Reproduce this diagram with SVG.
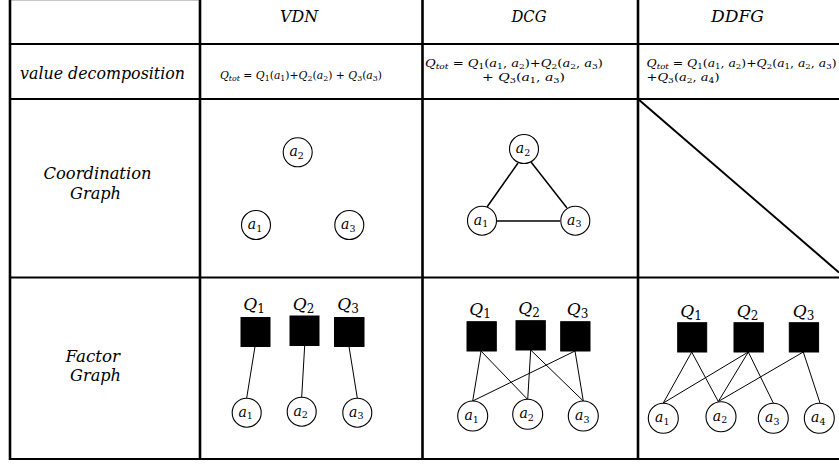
<svg xmlns="http://www.w3.org/2000/svg" width="839" height="466" viewBox="0 0 839 466">
<style>
text{font-family:"DejaVu Serif","Liberation Serif",serif;fill:#000}
.i{font-style:italic}
.hd{font-size:16px;font-style:italic}
.lb{font-size:16px;font-style:italic}
.fm{font-size:11.5px}
.fs{font-size:8px}
.vd{font-size:11px}
.vs{font-size:8px}
.ql{font-size:17px}
.qs{font-size:12px}
.nl{font-size:14px}
.ns{font-size:9.5px}
.tv{stroke:#000;stroke-width:2.6;fill:none}
.th{stroke:#000;stroke-width:2.2;fill:none}
.agent{fill:#fff;stroke:#000;stroke-width:1.1}
.fac{fill:#000;stroke:#000}
.e{stroke:#000;stroke-width:1;fill:none}
.ec{stroke:#000;stroke-width:1.5;fill:none}
</style>
<rect width="839" height="466" fill="#fff"/>
<g id="table">
<line x1="9" y1="0.5" x2="200" y2="0.5" stroke="#c8c8c8" stroke-width="1"/>
<line class="tv" x1="10" y1="0" x2="10" y2="460"/>
<line class="tv" x1="200" y1="0" x2="200" y2="460"/>
<line class="tv" x1="422.5" y1="0" x2="422.5" y2="460"/>
<line class="tv" x1="638" y1="0" x2="638" y2="460"/>
<line class="th" x1="9" y1="44" x2="839" y2="44"/>
<line class="th" x1="9" y1="99" x2="839" y2="99"/>
<line class="th" x1="9" y1="277.5" x2="839" y2="277.5"/>
<line class="th" x1="9" y1="459" x2="839" y2="459"/>
<line x1="638" y1="99" x2="839" y2="272.5" stroke="#000" stroke-width="2"/>
</g>
<g id="headers">
<text class="hd" x="280" y="21.5" textLength="38" lengthAdjust="spacingAndGlyphs">VDN</text>
<text class="hd" x="511.5" y="21.5" textLength="35" lengthAdjust="spacingAndGlyphs">DCG</text>
<text class="hd" x="711" y="21.5" textLength="53" lengthAdjust="spacingAndGlyphs">DDFG</text>
<text class="lb" x="20" y="79" textLength="165" lengthAdjust="spacingAndGlyphs">value decomposition</text>
<text class="lb" x="43.5" y="179" textLength="108" lengthAdjust="spacingAndGlyphs">Coordination</text>
<text class="lb" x="70" y="198.5" textLength="51" lengthAdjust="spacingAndGlyphs">Graph</text>
<text class="lb" x="65.5" y="361.5" textLength="54.5" lengthAdjust="spacingAndGlyphs">Factor</text>
<text class="lb" x="70" y="381" textLength="51" lengthAdjust="spacingAndGlyphs">Graph</text>
</g>
<g id="formulas">
<text class="vd" x="220" y="78.5" textLength="162" lengthAdjust="spacingAndGlyphs"><tspan class="i">Q</tspan><tspan class="i vs" dy="2">tot</tspan><tspan dy="-2"> = </tspan><tspan class="i">Q</tspan><tspan class="vs" dy="2">1</tspan><tspan dy="-2">(</tspan><tspan class="i">a</tspan><tspan class="vs" dy="2">1</tspan><tspan dy="-2">)+</tspan><tspan class="i">Q</tspan><tspan class="vs" dy="2">2</tspan><tspan dy="-2">(</tspan><tspan class="i">a</tspan><tspan class="vs" dy="2">2</tspan><tspan dy="-2">) + </tspan><tspan class="i">Q</tspan><tspan class="vs" dy="2">3</tspan><tspan dy="-2">(</tspan><tspan class="i">a</tspan><tspan class="vs" dy="2">3</tspan><tspan dy="-2">)</tspan></text>
<text class="fm" x="425" y="66.5" textLength="178" lengthAdjust="spacingAndGlyphs"><tspan class="i">Q</tspan><tspan class="i fs" dy="2">tot</tspan><tspan dy="-2"> = </tspan><tspan class="i">Q</tspan><tspan class="fs" dy="2">1</tspan><tspan dy="-2">(</tspan><tspan class="i">a</tspan><tspan class="fs" dy="2">1</tspan><tspan dy="-2">, </tspan><tspan class="i">a</tspan><tspan class="fs" dy="2">2</tspan><tspan dy="-2">)+</tspan><tspan class="i">Q</tspan><tspan class="fs" dy="2">2</tspan><tspan dy="-2">(</tspan><tspan class="i">a</tspan><tspan class="fs" dy="2">2</tspan><tspan dy="-2">, </tspan><tspan class="i">a</tspan><tspan class="fs" dy="2">3</tspan><tspan dy="-2">)</tspan></text>
<text class="fm" x="482" y="81" textLength="83" lengthAdjust="spacingAndGlyphs"><tspan>+ </tspan><tspan class="i">Q</tspan><tspan class="fs" dy="2">3</tspan><tspan dy="-2">(</tspan><tspan class="i">a</tspan><tspan class="fs" dy="2">1</tspan><tspan dy="-2">, </tspan><tspan class="i">a</tspan><tspan class="fs" dy="2">3</tspan><tspan dy="-2">)</tspan></text>
<text class="fm" x="646.5" y="66.5" textLength="190" lengthAdjust="spacingAndGlyphs"><tspan class="i">Q</tspan><tspan class="i fs" dy="2">tot</tspan><tspan dy="-2"> = </tspan><tspan class="i">Q</tspan><tspan class="fs" dy="2">1</tspan><tspan dy="-2">(</tspan><tspan class="i">a</tspan><tspan class="fs" dy="2">1</tspan><tspan dy="-2">, </tspan><tspan class="i">a</tspan><tspan class="fs" dy="2">2</tspan><tspan dy="-2">)+</tspan><tspan class="i">Q</tspan><tspan class="fs" dy="2">2</tspan><tspan dy="-2">(</tspan><tspan class="i">a</tspan><tspan class="fs" dy="2">1</tspan><tspan dy="-2">, </tspan><tspan class="i">a</tspan><tspan class="fs" dy="2">2</tspan><tspan dy="-2">, </tspan><tspan class="i">a</tspan><tspan class="fs" dy="2">3</tspan><tspan dy="-2">)</tspan></text>
<text class="fm" x="646.5" y="81" textLength="73" lengthAdjust="spacingAndGlyphs"><tspan>+</tspan><tspan class="i">Q</tspan><tspan class="fs" dy="2">3</tspan><tspan dy="-2">(</tspan><tspan class="i">a</tspan><tspan class="fs" dy="2">2</tspan><tspan dy="-2">, </tspan><tspan class="i">a</tspan><tspan class="fs" dy="2">4</tspan><tspan dy="-2">)</tspan></text>
</g>
<g id="connectors">
<line class="ec" x1="487" y1="207" x2="518" y2="163"/>
<line class="ec" x1="531" y1="162" x2="567" y2="208"/>
<line class="ec" x1="497" y1="221" x2="560" y2="221"/>
<line class="e" x1="255" y1="346.5" x2="246.7" y2="398"/>
<line class="e" x1="304.7" y1="345.5" x2="301.7" y2="397"/>
<line class="e" x1="349" y1="346.5" x2="357.3" y2="398"/>
<line class="e" x1="481" y1="351" x2="472.7" y2="401"/>
<line class="e" x1="481" y1="351" x2="527.7" y2="399.5"/>
<line class="e" x1="530.7" y1="350" x2="527.7" y2="399.5"/>
<line class="e" x1="530.7" y1="350" x2="583.3" y2="401"/>
<line class="e" x1="575" y1="351" x2="472.7" y2="401"/>
<line class="e" x1="575" y1="351" x2="583.3" y2="401"/>
<line class="e" x1="691.7" y1="352" x2="663.3" y2="403"/>
<line class="e" x1="691.7" y1="352" x2="718.3" y2="401.5"/>
<line class="e" x1="748.3" y1="352" x2="663.3" y2="403"/>
<line class="e" x1="748.3" y1="352" x2="718.3" y2="401.5"/>
<line class="e" x1="748.3" y1="352" x2="773.3" y2="403"/>
<line class="e" x1="803.3" y1="352" x2="718.3" y2="401.5"/>
<line class="e" x1="803.3" y1="352" x2="820" y2="403"/>
</g>
<g id="vdn-cg-a1"><circle class="agent" cx="256" cy="225" r="14.5"/><text class="nl i" x="255" y="229" text-anchor="middle">a<tspan class="ns" dy="2.5" font-style="normal">1</tspan></text></g>
<g id="vdn-cg-a2"><circle class="agent" cx="297.7" cy="152.3" r="14.5"/><text class="nl i" x="296.7" y="156.3" text-anchor="middle">a<tspan class="ns" dy="2.5" font-style="normal">2</tspan></text></g>
<g id="vdn-cg-a3"><circle class="agent" cx="349.3" cy="225" r="14.5"/><text class="nl i" x="348.3" y="229" text-anchor="middle">a<tspan class="ns" dy="2.5" font-style="normal">3</tspan></text></g>
<g id="dcg-cg-a1"><circle class="agent" cx="482" cy="220.7" r="14.5"/><text class="nl i" x="481" y="224.7" text-anchor="middle">a<tspan class="ns" dy="2.5" font-style="normal">1</tspan></text></g>
<g id="dcg-cg-a2"><circle class="agent" cx="524" cy="149" r="14.5"/><text class="nl i" x="523" y="153" text-anchor="middle">a<tspan class="ns" dy="2.5" font-style="normal">2</tspan></text></g>
<g id="dcg-cg-a3"><circle class="agent" cx="575.3" cy="220.7" r="14.5"/><text class="nl i" x="574.3" y="224.7" text-anchor="middle">a<tspan class="ns" dy="2.5" font-style="normal">3</tspan></text></g>
<g id="vdn-fg-q1"><rect class="fac" x="241" y="317.5" width="29" height="29"/><text class="ql i" x="254" y="310" text-anchor="middle">Q<tspan class="qs" dy="3" font-style="normal">1</tspan></text></g>
<g id="vdn-fg-q2"><rect class="fac" x="290" y="316" width="29" height="29.5"/><text class="ql i" x="303.5" y="310" text-anchor="middle">Q<tspan class="qs" dy="3" font-style="normal">2</tspan></text></g>
<g id="vdn-fg-q3"><rect class="fac" x="334.5" y="317.5" width="29.5" height="29"/><text class="ql i" x="348" y="310" text-anchor="middle">Q<tspan class="qs" dy="3" font-style="normal">3</tspan></text></g>
<g id="vdn-fg-a1"><circle class="agent" cx="246.7" cy="412.7" r="14.5"/><text class="nl i" x="245.7" y="416.7" text-anchor="middle">a<tspan class="ns" dy="2.5" font-style="normal">1</tspan></text></g>
<g id="vdn-fg-a2"><circle class="agent" cx="301.7" cy="411.7" r="14.5"/><text class="nl i" x="300.7" y="415.7" text-anchor="middle">a<tspan class="ns" dy="2.5" font-style="normal">2</tspan></text></g>
<g id="vdn-fg-a3"><circle class="agent" cx="357.3" cy="412.7" r="14.5"/><text class="nl i" x="356.3" y="416.7" text-anchor="middle">a<tspan class="ns" dy="2.5" font-style="normal">3</tspan></text></g>
<g id="dcg-fg-q1"><rect class="fac" x="467" y="321.7" width="29.3" height="29.3"/><text class="ql i" x="480" y="315" text-anchor="middle">Q<tspan class="qs" dy="3" font-style="normal">1</tspan></text></g>
<g id="dcg-fg-q2"><rect class="fac" x="516" y="320.7" width="29.3" height="29.3"/><text class="ql i" x="529" y="314" text-anchor="middle">Q<tspan class="qs" dy="3" font-style="normal">2</tspan></text></g>
<g id="dcg-fg-q3"><rect class="fac" x="560.7" y="321.7" width="29.3" height="29.3"/><text class="ql i" x="577.5" y="315" text-anchor="middle">Q<tspan class="qs" dy="3" font-style="normal">3</tspan></text></g>
<g id="dcg-fg-a1"><circle class="agent" cx="472.7" cy="416" r="15"/><text class="nl i" x="471.7" y="420" text-anchor="middle">a<tspan class="ns" dy="2.5" font-style="normal">1</tspan></text></g>
<g id="dcg-fg-a2"><circle class="agent" cx="527.7" cy="414.3" r="15"/><text class="nl i" x="526.7" y="418.3" text-anchor="middle">a<tspan class="ns" dy="2.5" font-style="normal">2</tspan></text></g>
<g id="dcg-fg-a3"><circle class="agent" cx="583.3" cy="416" r="15"/><text class="nl i" x="582.3" y="420" text-anchor="middle">a<tspan class="ns" dy="2.5" font-style="normal">3</tspan></text></g>
<g id="ddfg-fg-q1"><rect class="fac" x="677.7" y="322.7" width="29" height="29.3"/><text class="ql i" x="691" y="316.5" text-anchor="middle">Q<tspan class="qs" dy="3" font-style="normal">1</tspan></text></g>
<g id="ddfg-fg-q2"><rect class="fac" x="734" y="322.7" width="29.3" height="29.3"/><text class="ql i" x="747.5" y="316.5" text-anchor="middle">Q<tspan class="qs" dy="3" font-style="normal">2</tspan></text></g>
<g id="ddfg-fg-q3"><rect class="fac" x="789.3" y="322.7" width="29.3" height="29.3"/><text class="ql i" x="803.5" y="316.5" text-anchor="middle">Q<tspan class="qs" dy="3" font-style="normal">3</tspan></text></g>
<g id="ddfg-fg-a1"><circle class="agent" cx="663.3" cy="418.3" r="15"/><text class="nl i" x="662.3" y="422.3" text-anchor="middle">a<tspan class="ns" dy="2.5" font-style="normal">1</tspan></text></g>
<g id="ddfg-fg-a2"><circle class="agent" cx="721" cy="416.7" r="15"/><text class="nl i" x="720" y="420.7" text-anchor="middle">a<tspan class="ns" dy="2.5" font-style="normal">2</tspan></text></g>
<g id="ddfg-fg-a3"><circle class="agent" cx="773.3" cy="418.3" r="15"/><text class="nl i" x="772.3" y="422.3" text-anchor="middle">a<tspan class="ns" dy="2.5" font-style="normal">3</tspan></text></g>
<g id="ddfg-fg-a4"><circle class="agent" cx="819.3" cy="418.3" r="15"/><text class="nl i" x="818.3" y="422.3" text-anchor="middle">a<tspan class="ns" dy="2.5" font-style="normal">4</tspan></text></g>
</svg>
